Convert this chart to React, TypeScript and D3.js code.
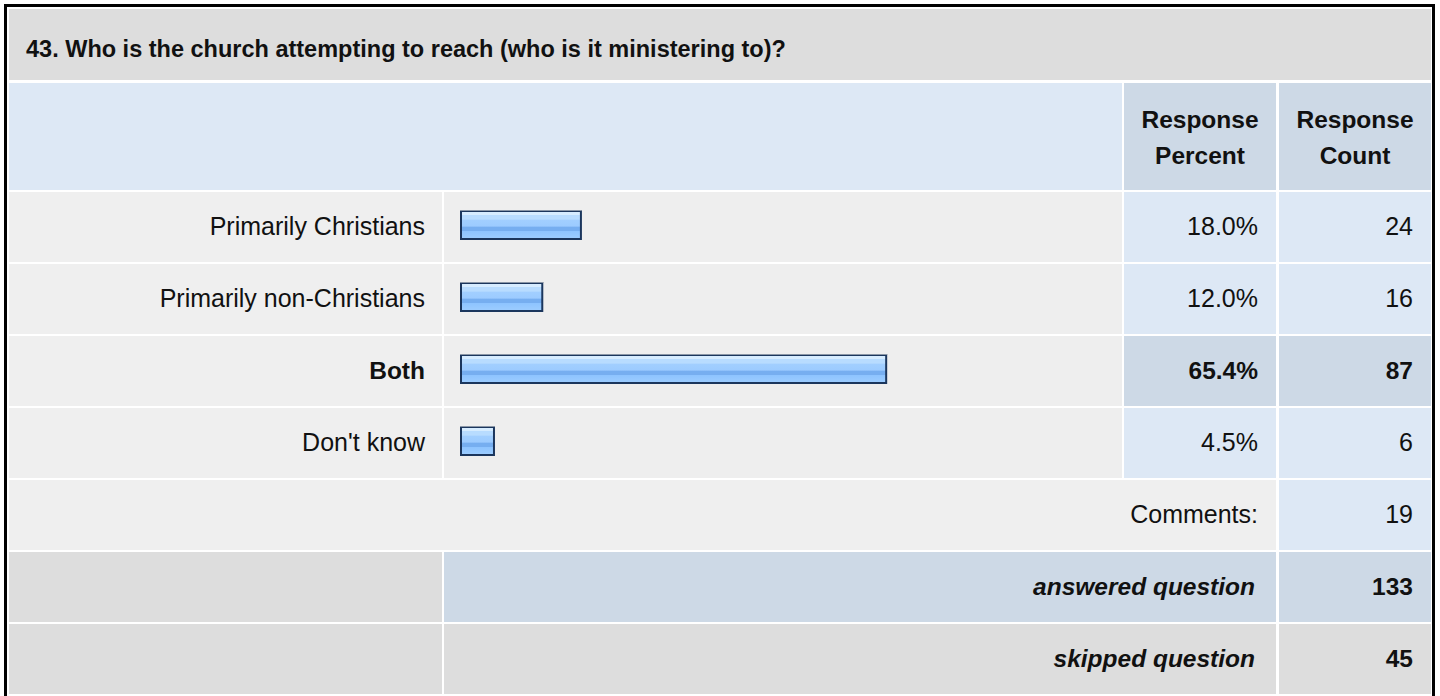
import React from "react";
import * as d3 from "d3";

const title = "43. Who is the church attempting to reach (who is it ministering to)?";
const answers = ["Primarily Christians", "Primarily non-Christians", "Both", "Don't know"];
const percents = [18.0, 12.0, 65.4, 4.5];
const counts = [24, 16, 87, 6];
const headerLabels = [["Response", "Percent"], ["Response", "Count"]];
const commentsLabel = "Comments:";
const commentsCount = 19;
const summaryLabels = ["answered question", "skipped question"];
const summaryValues = [133, 45];

const FONT = "'Liberation Sans', Arial, Helvetica, sans-serif";

export default function App() {
  const W = 1440, H = 696;
  // columns
  const c0 = [9, 442], c1 = [444, 1122], c2 = [1124, 1276], c3 = [1279, 1431];
  const rowStep = 72, rowH = 70;
  const y = d3.scaleBand<string>().domain(answers).range([192, 192 + rowStep * answers.length]).paddingInner(0);
  const x = d3.scaleLinear().domain([0, 100]).range([466, 1110]);
  const barX0 = 460;
  const maxP = d3.max(percents) as number;

  const commentsTop = 192 + rowStep * answers.length;
  const sumTops = [commentsTop + rowStep, commentsTop + rowStep * 2];

  const fs = 24.5;
  const txt = (props: any, s: any) => (
    <text fontFamily={FONT} fontSize={props.fontWeight === "bold" ? fs : 25} fill="#111" {...props}>{s}</text>
  );

  return (
    <svg width={W} height={H} style={{ position: "absolute", left: 0, top: 0, background: "#fff" }}>
      <defs>
        <linearGradient id="barg" x1="0" y1="0" x2="0" y2="1">
          <stop offset="0" stopColor="#d6ecff" />
          <stop offset="0.15" stopColor="#d6ecff" />
          <stop offset="0.16" stopColor="#b8dcff" />
          <stop offset="0.3" stopColor="#b8dcff" />
          <stop offset="0.31" stopColor="#a2cfff" />
          <stop offset="0.55" stopColor="#9ccbff" />
          <stop offset="0.56" stopColor="#76aef0" />
          <stop offset="0.72" stopColor="#76aef0" />
          <stop offset="0.73" stopColor="#8ec4ff" />
          <stop offset="1" stopColor="#9dcdff" />
        </linearGradient>
      </defs>
      {/* outer frame */}
      <rect x={5.5} y={5.5} width={1428} height={698} fill="none" stroke="#000" strokeWidth={3} />

      {/* title row */}
      <rect x={9} y={9} width={1422} height={71} fill="#dddddd" />
      {txt({ x: 26, y: 57, fontWeight: "bold", fontSize: 23.5 }, title)}

      {/* header row */}
      <rect x={c0[0]} y={83} width={c1[1] - c0[0]} height={107} fill="#dde8f5" />
      {[c2, c3].map((c, i) => (
        <g key={i}>
          <rect x={c[0]} y={83} width={c[1] - c[0]} height={107} fill="#cdd9e6" />
          {txt({ x: (c[0] + c[1]) / 2, y: 128, textAnchor: "middle", fontWeight: "bold" }, headerLabels[i][0])}
          {txt({ x: (c[0] + c[1]) / 2, y: 164, textAnchor: "middle", fontWeight: "bold" }, headerLabels[i][1])}
        </g>
      ))}

      {/* data rows */}
      {answers.map((a, i) => {
        const top = y(a) as number;
        const cy = top + rowH / 2;
        const hi = percents[i] === maxP;
        const cellFill = hi ? "#cdd9e6" : "#dde8f5";
        const bw = x(percents[i]) - barX0;
        const by = top + 18;
        return (
          <g key={a}>
            <rect x={c0[0]} y={top} width={c0[1] - c0[0]} height={rowH} fill="#efefef" />
            <rect x={c1[0]} y={top} width={c1[1] - c1[0]} height={rowH} fill="#eeeeee" />
            <rect x={c2[0]} y={top} width={c2[1] - c2[0]} height={rowH} fill={cellFill} />
            <rect x={c3[0]} y={top} width={c3[1] - c3[0]} height={rowH} fill={cellFill} />
            {txt({ x: 425, y: cy + 8, textAnchor: "end", fontWeight: hi ? "bold" : "normal" }, a)}
            <rect x={barX0 + 1} y={by + 1} width={bw - 2} height={28} fill="url(#barg)" stroke="#1b365d" strokeWidth={2} />
            <line x1={barX0} x2={barX0 + bw} y1={by + 0.5} y2={by + 0.5} stroke="#8a96a6" strokeWidth={1} />
            {txt({ x: 1258, y: cy + 8, textAnchor: "end", fontWeight: hi ? "bold" : "normal" }, d3.format(".1f")(percents[i]) + "%")}
            {txt({ x: 1413, y: cy + 8, textAnchor: "end", fontWeight: hi ? "bold" : "normal" }, counts[i])}
          </g>
        );
      })}

      {/* comments row */}
      <rect x={c0[0]} y={commentsTop} width={c2[1] - c0[0]} height={rowH} fill="#efefef" />
      <rect x={c3[0]} y={commentsTop} width={c3[1] - c3[0]} height={rowH} fill="#dde8f5" />
      {txt({ x: 1258, y: commentsTop + rowH / 2 + 8, textAnchor: "end" }, commentsLabel)}
      {txt({ x: 1413, y: commentsTop + rowH / 2 + 8, textAnchor: "end" }, commentsCount)}

      {/* summary rows */}
      {summaryLabels.map((s, i) => {
        const top = sumTops[i];
        const mid = i === 0 ? "#cdd9e6" : "#dddddd";
        return (
          <g key={s}>
            <rect x={c0[0]} y={top} width={c0[1] - c0[0]} height={rowH} fill="#dddddd" />
            <rect x={c1[0]} y={top} width={c2[1] - c1[0]} height={rowH} fill={mid} />
            <rect x={c3[0]} y={top} width={c3[1] - c3[0]} height={rowH} fill={mid} />
            {txt({ x: 1255, y: top + rowH / 2 + 8, textAnchor: "end", fontWeight: "bold", fontStyle: "italic" }, s)}
            {txt({ x: 1413, y: top + rowH / 2 + 8, textAnchor: "end", fontWeight: "bold" }, summaryValues[i])}
          </g>
        );
      })}
    </svg>
  );
}
